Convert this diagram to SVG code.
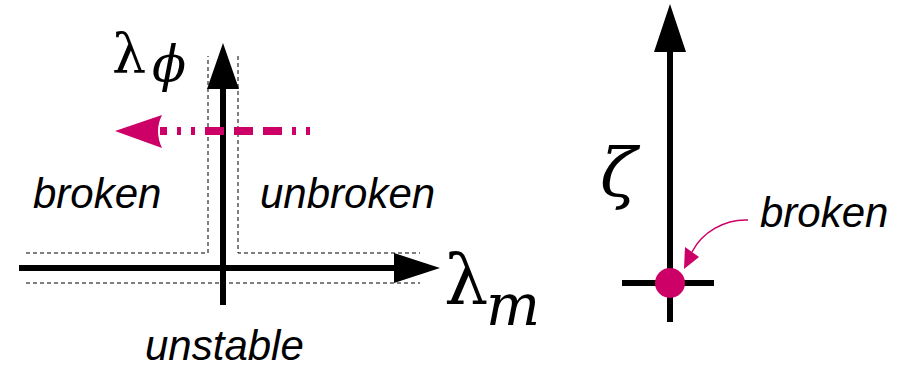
<svg xmlns="http://www.w3.org/2000/svg" width="908" height="369" viewBox="0 0 908 369">
<style>
.ax{stroke:#000;stroke-width:6;fill:none}
.dash{stroke:#000;stroke-width:1;fill:none;stroke-dasharray:4,3}
.lbl{font-family:"Liberation Sans",Arial,sans-serif;font-style:italic;font-size:42px;fill:#000}
.math{font-family:"DejaVu Serif",serif;font-style:italic;fill:#000}
.lam{font-family:"DejaVu Serif",serif;font-style:normal;fill:#000}
.mag{fill:#cc0066}
</style>
<rect width="908" height="369" fill="#fff"/>
<g id="connectors">
<path class="dash" d="M26,253 H208 V56"/>
<path class="dash" d="M238,56 V253 H420"/>
<path class="dash" d="M26,283 H420"/>
<line class="ax" x1="223" y1="305" x2="223" y2="88"/>
<polygon points="223,43 207,89 239,89" fill="#000"/>
<line class="ax" x1="19" y1="268" x2="395" y2="268"/>
<polygon points="440,268 394,253 394,283" fill="#000"/>
<path d="M310,131 H160" stroke="#cc0066" stroke-width="8" fill="none" stroke-dasharray="4,10,4,10,19,10,19,10,19,10"/>
<path class="mag" d="M115,131 L162,115 Q154,131 162,148 Z"/>
<line class="ax" x1="670" y1="322" x2="670" y2="50"/>
<polygon points="670,4 654,52 686,52" fill="#000"/>
<line class="ax" x1="622" y1="283" x2="714" y2="283"/>
<path d="M748,220 C725,219 702,232 692,252" stroke="#cc0066" stroke-width="1.5" fill="none"/>
<polygon class="mag" points="684,269 685,247 699,257"/>
</g>
<g id="node-origin-dot"><circle class="mag" cx="670" cy="283" r="15"/></g>
<g id="label-lambda-phi"><text class="lam" x="112" y="72" font-size="54">λ</text><text class="math" x="152" y="81" font-size="50">ϕ</text></g>
<g id="label-lambda-m"><text class="lam" x="444" y="304" font-size="70">λ</text><text class="math" x="486" y="325" font-size="57">m</text></g>
<g id="label-zeta"><text class="math" x="600" y="196" font-size="68">ζ</text></g>
<g id="label-broken-left"><text class="lbl" x="33" y="208">broken</text></g>
<g id="label-unbroken"><text class="lbl" x="260" y="208">unbroken</text></g>
<g id="label-unstable"><text class="lbl" x="145" y="360" font-size="40">unstable</text></g>
<g id="label-broken-right"><text class="lbl" x="760" y="227">broken</text></g>
</svg>
